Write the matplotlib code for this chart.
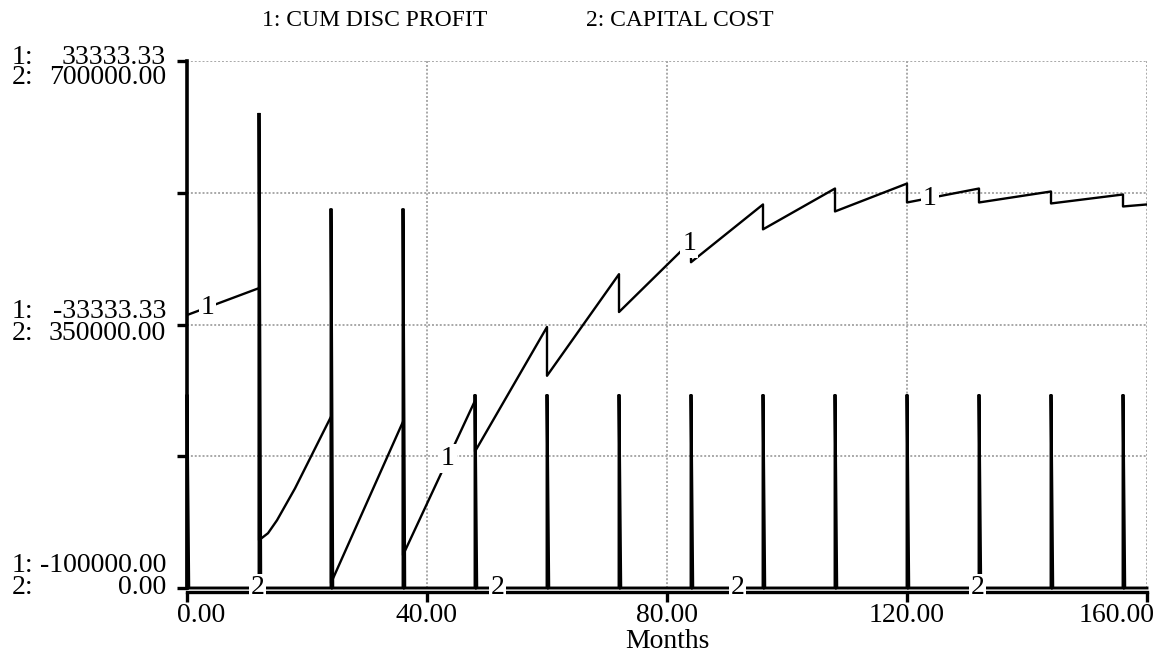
import matplotlib
matplotlib.use("Agg")
import matplotlib.pyplot as plt
from matplotlib.transforms import ScaledTranslation
import numpy as np

plt.rcParams['font.family'] = ['Liberation Serif', 'DejaVu Serif']

# 1: CUM DISC PROFIT (value read at segment ends; repeated months are the drops)
profit_months = [0, 12, 12, 13.5, 15, 18, 24, 24, 36, 36, 48, 48, 60, 60, 72,
                 72, 84, 84, 96, 96, 108, 108, 120, 120, 132, 132, 144, 144,
                 156, 156, 160]
profit_values = [-30940, -24130, -87900, -86140, -82860, -74800, -56650,
                 -98740, -57910, -91680, -52610, -65470, -33960, -46310,
                 -20600, -30180, -12290, -17580, -2960, -9260, 1070, -4730,
                 2330, -2460, 1070, -2460, 320, -2710, -440, -3470, -2960]

# 2: CAPITAL COST (one pulse per investment month)
capital_months = [0, 12, 24, 36, 48, 60, 72, 84, 96, 108, 120, 132, 144, 156]
capital_values = [257000, 631000, 504000, 504000, 257000, 257000, 257000,
                  257000, 257000, 257000, 257000, 257000, 257000, 257000]

x_ticks = [0, 40, 80, 120, 160]
x_tick_labels = ["0.00", "40.00", "80.00", "120.00", "160.00"]
profit_axis_labels = ["33333.33", "-33333.33", "-100000.00"]
capital_axis_labels = ["700000.00", "350000.00", "0.00"]
profit_range = (-100000, 33333.33)
capital_range = (0, 700000)

W, H = 1161, 670
fig = plt.figure(figsize=(W / 100, H / 100), dpi=100)

left_px, right_px, top_px, bottom_px = 187, 1147, 61, 588
ax = fig.add_axes([left_px / W, 1 - bottom_px / H,
                   (right_px - left_px) / W, (bottom_px - top_px) / H])
ax2 = ax.twinx()

grid_kw = dict(color='#a8a8a8', lw=1.4, ls=(0, (1, 1)))

ax.set_xlim(0, 160)
ax.set_ylim(*capital_range)
ax2.set_ylim(*profit_range)

# grid
ax.set_yticks(np.linspace(capital_range[0], capital_range[1], 5))
ax.set_yticklabels([])
ax.set_xticks(x_ticks)
ax.set_xticklabels(x_tick_labels)
for xv in x_ticks[1:]:
    ax.axvline(xv, zorder=0.5, **grid_kw)
for yv in np.linspace(capital_range[0], capital_range[1], 5)[1:]:
    ax.axhline(yv, zorder=0.5, **grid_kw)

for s in ['top', 'right']:
    ax.spines[s].set_visible(False)
for s in ax2.spines.values():
    s.set_visible(False)
ax.spines['left'].set_linewidth(2.6)
ax.spines['bottom'].set_linewidth(2.4)
ax.spines['bottom'].set_position(('outward', 3))
ax.tick_params(axis='y', direction='out', length=7.5, width=2.4, color='black')
ax.tick_params(axis='x', direction='out', length=7.5, width=2.4, color='black',
               pad=0, labelsize=20)
ax2.set_yticks([])

# end labels sit inside the axis span
xlabels = ax.get_xticklabels()
xlabels[0].set_horizontalalignment('left')
xlabels[0].set_transform(xlabels[0].get_transform()
                         + ScaledTranslation(-0.10, 0, fig.dpi_scale_trans))
xlabels[-1].set_horizontalalignment('right')
xlabels[-1].set_transform(xlabels[-1].get_transform()
                          + ScaledTranslation(0.08, 0, fig.dpi_scale_trans))

# series 2: pulses at each investment month
cx = [0.0]
cy = [0.0]
for m, v in zip(capital_months, capital_values):
    cx += [m, m, m + 0.3]
    cy += [0, v, 0]
cx.append(160)
cy.append(0)
ax.plot(cx, cy, color='black', lw=2.1, solid_joinstyle='miter', zorder=3,
        clip_on=False)

# series 1
ax2.plot(profit_months, profit_values, color='black', lw=1.7, zorder=3)

label_box = dict(facecolor='white', edgecolor='none', pad=1.5)
for t in [3.4, 43.5, 83.7, 123.8]:
    yv = np.interp(t, profit_months, profit_values)
    ax2.text(t, yv, "1", fontsize=20, ha='center', va='center',
             bbox=label_box, zorder=6)
for t in [11.7, 51.7, 91.7, 131.7]:
    ax.text(t, 0, "2", fontsize=20, ha='center', va='center',
            bbox=dict(facecolor='white', edgecolor='none', pad=1.0), zorder=6,
            clip_on=False)


def px(x, y):
    return x / W, 1 - y / H


fig.text(*px(667, 642), "Months", fontsize=20, ha='center', va='center')

# paired axis labels
label_rows = [(57, 77), (312, 333), (566, 587)]
for (y1, y2), l1, l2 in zip(label_rows, profit_axis_labels, capital_axis_labels):
    fig.text(*px(12, y1), "1:", fontsize=20, ha='left', va='center')
    fig.text(*px(12, y2), "2:", fontsize=20, ha='left', va='center')
    fig.text(*px(166, y1), l1, fontsize=20, ha='right', va='center')
    fig.text(*px(166, y2), l2, fontsize=20, ha='right', va='center')

fig.text(*px(262, 20), "1: CUM DISC PROFIT", fontsize=17, ha='left', va='center')
fig.text(*px(586, 20), "2: CAPITAL COST", fontsize=17, ha='left', va='center')

fig.savefig("out.png", dpi=100)
